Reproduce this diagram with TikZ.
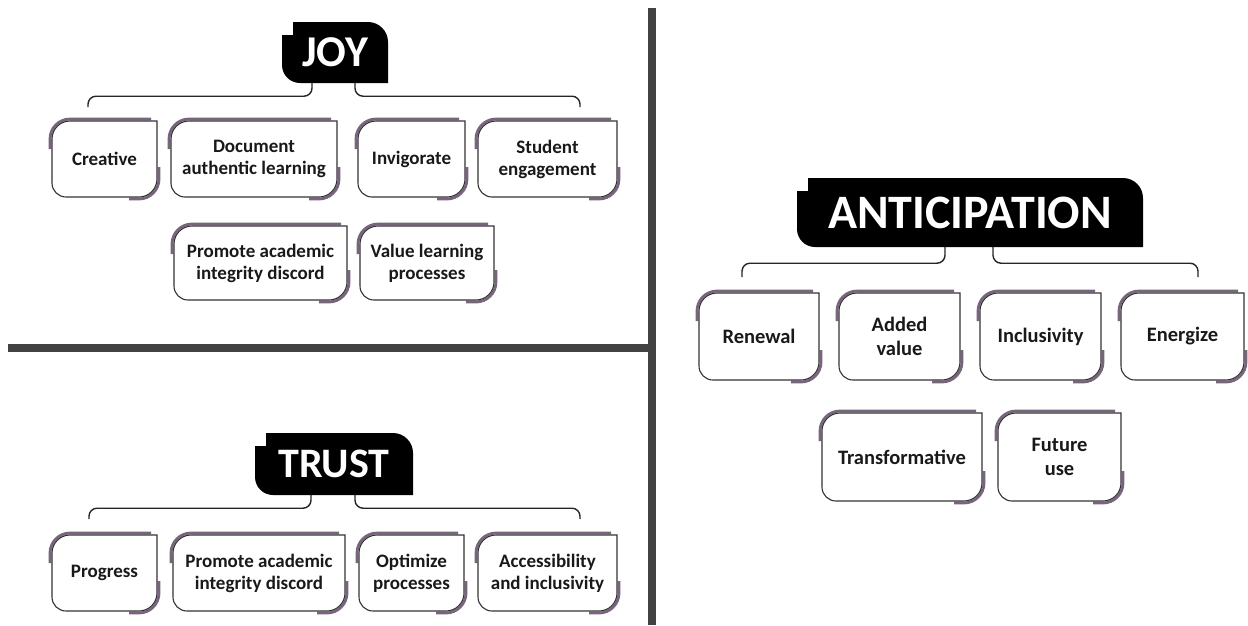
\documentclass[tikz,border=0pt]{standalone}
\usepackage{fontspec}
\setmainfont{Carlito}
\usetikzlibrary{calc}

\definecolor{mauve}{RGB}{120,100,124}
\definecolor{rule}{RGB}{66,66,66}

\tikzset{
  leaf/.style={draw=black!80, line width=1.1pt, fill=white},
  rim/.style={mauve, line width=2.8pt},
  twig/.style={draw=black!85, line width=1.4pt, rounded corners=8pt},
  leaftext/.style={align=center, text=black!90, font=\bfseries\fontsize{19}{22}\selectfont},
  headtext/.style={text=white, inner sep=0pt},
}

% box with a square top right corner and mauve rims top left / bottom right
\newcommand\leaf[6]{%
  \draw[rim] (#2-2,#3+28) -- (#2-2,#3+18) arc(180:270:20) -- (#4-6,#3-2);
  \draw[rim] (#4+2,#5-30) -- (#4+2,#5-18) arc(0:90:20) -- (#4-28,#5+2);
  \draw[leaf] (#4,#3) -- (#2+18,#3) arc(270:180:18) -- (#2,#5-14) arc(180:90:14)
    -- (#4-18,#5) arc(90:0:18) -- cycle;
  \node[leaftext] (#1) at ({(#2+#4)/2},{(#3+#5)/2}) {#6};
}

% black title tab with a notch at the top left
\newcommand\headbox[7]{%
  \fill (#2+11,#3) -- (#4-20,#3) arc(270:360:20) -- (#4,#5) -- (#2+18,#5)
    arc(90:180:18) -- (#2,#3+13) -- (#2+11,#3+13) -- cycle;
  \node[headtext, minimum width={#4-#2}, minimum height={#5-#3},
    font=\bfseries\fontsize{#6}{#6}\selectfont] (#1) at ({(#2+#4)/2},{(#3+#5)/2}) {#7};
}

\begin{document}
\begin{tikzpicture}[x=1pt,y=-1pt]
  \fill[white] (0,0) rectangle (1248,625);
  \useasboundingbox (0,0) rectangle (1248,625);

  % dividers
  \fill[rule] (648,8) rectangle (656,625);
  \fill[rule] (8,344) rectangle (652,352);

  % JOY
  \headbox{joy}{282}{22}{388}{83}{44}{JOY}
  \coordinate (joy-l) at (88,107);
  \coordinate (joy-r) at (580,107);
  \draw[twig] ([xshift=-23pt]joy.south) -- ++(0,13) -| (joy-l);
  \draw[twig] ([xshift=20pt]joy.south) -- ++(0,13) -| (joy-r);
  \leaf{creative}{52}{121}{157}{197}{Creative}
  \leaf{document}{171}{121}{337}{197}{Document\\authentic learning}
  \leaf{invigorate}{358}{121}{465}{197}{Invigorate}
  \leaf{engagement}{478}{121}{617}{197}{Student\\engagement}
  \leaf{integrity}{174}{226}{347}{300}{Promote academic\\integrity discord}
  \leaf{valuing}{360}{226}{494}{300}{Value learning\\processes}

  % TRUST
  \headbox{trust}{255}{433}{413}{495}{42}{TRUST}
  \coordinate (trust-l) at (89,519);
  \coordinate (trust-r) at (580,519);
  \draw[twig] ([xshift=-23pt]trust.south) -- ++(0,13) -| (trust-l);
  \draw[twig] ([xshift=21pt]trust.south) -- ++(0,13) -| (trust-r);
  \leaf{progress}{52}{535}{157}{611}{Progress}
  \leaf{integrity2}{173}{535}{345}{611}{Promote academic\\integrity discord}
  \leaf{optimize}{359}{535}{464}{611}{Optimize\\processes}
  \leaf{access}{478}{535}{617}{611}{Accessibility\\and inclusivity}

  % ANTICIPATION
  \headbox{antic}{797}{178}{1143}{247}{48}{ANTICIPATION}
  \coordinate (antic-l) at (742,277);
  \coordinate (antic-r) at (1198,277);
  \draw[twig] ([xshift=-25pt]antic.south) -- ++(0,16) -| (antic-l);
  \draw[twig] ([xshift=23pt]antic.south) -- ++(0,16) -| (antic-r);
  \begin{scope}[leaftext/.append style={font=\bfseries\fontsize{20.5}{24}\selectfont}]
    \leaf{renewal}{699}{293}{819}{380}{Renewal}
    \leaf{added}{839}{293}{960}{380}{Added\\value}
    \leaf{inclusivity}{980}{293}{1101}{380}{Inclusivity}
    \leaf{energize}{1121}{293}{1244}{380}{Energize}
    \leaf{transform}{822}{413}{982}{501}{Transformative}
    \leaf{future}{998}{413}{1121}{501}{Future\\use}
  \end{scope}
\end{tikzpicture}
\end{document}
